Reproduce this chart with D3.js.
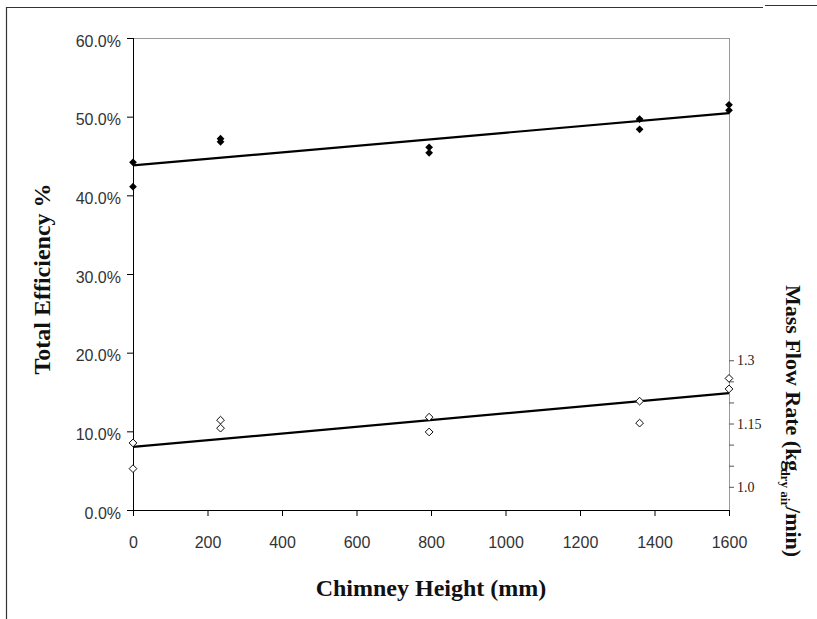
<!DOCTYPE html>
<html>
<head>
<meta charset="utf-8">
<script src="https://cdn.jsdelivr.net/npm/d3@7"></script>
<style>
  body { margin: 0; background: #fff; }
  svg { display: block; }
</style>
</head>
<body>
<div id="chart"></div>
<script>
// chimney height (mm) for each measurement
var heights = [0, 0, 235, 235, 795, 795, 1360, 1360, 1600, 1600];
// total efficiency (%)
var efficiency = [44.2, 41.1, 47.2, 46.8, 46.1, 45.4, 49.7, 48.4, 51.5, 50.8];
// mass flow rate (kg dry air / min)
var massFlow = [1.104, 1.043, 1.158, 1.139, 1.165, 1.130, 1.203, 1.151, 1.257, 1.232];

var xTicks = [0, 200, 400, 600, 800, 1000, 1200, 1400, 1600];
var yTicks = [0, 10, 20, 30, 40, 50, 60];
var y2Ticks = [1.0, 1.05, 1.1, 1.15, 1.2, 1.25, 1.3];
var y2Labels = { "1": "1.0", "1.15": "1.15", "1.3": "1.3" };

var W = 817, H = 619;
var margin = { left: 133, right: 88, top: 38, bottom: 109 };
var width = W - margin.left - margin.right;
var height = H - margin.top - margin.bottom;

var svg = d3.select("#chart").append("svg")
    .attr("width", W)
    .attr("height", H);

// outer frame (cut off at the edges)
svg.append("path")
    .attr("d", "M6.5,619 L6.5,7.5 L763,7.5 M765,5.5 L817,5.5")
    .attr("fill", "none")
    .attr("stroke", "#333")
    .attr("stroke-width", 1.2);

var g = svg.append("g")
    .attr("transform", "translate(" + margin.left + "," + margin.top + ")");

var x = d3.scaleLinear().domain([0, 1600]).range([0, width]);
var y = d3.scaleLinear().domain([0, 60]).range([height, 0]);
var y2 = d3.scaleLinear().domain([0.945, 2.064]).range([height, 0]);

// plot border top
g.append("line").attr("x1", 0).attr("x2", width).attr("y1", 0.5).attr("y2", 0.5)
    .attr("stroke", "#999");

// right axis
var yAxisR = d3.axisRight(y2).tickValues(y2Ticks).tickSize(5).tickPadding(3)
    .tickFormat(function (d) { return y2Labels[String(+d.toFixed(2))] || ""; });
var gr = g.append("g").attr("transform", "translate(" + width + ",0)").call(yAxisR);
gr.select(".domain").attr("d", "M0.5,0V" + height).attr("stroke", "#999");
gr.selectAll(".tick line").attr("stroke", "#555");
gr.selectAll("text")
    .attr("font-family", "'Liberation Serif', 'Times New Roman', serif")
    .attr("font-size", 14)
    .attr("fill", "#222");

// left axis
var yAxis = d3.axisLeft(y).tickValues(yTicks).tickSize(6).tickPadding(6)
    .tickFormat(function (d) { return d.toFixed(1) + "%"; });
var gl = g.append("g").call(yAxis);
gl.select(".domain").attr("d", "M0.5,0V" + (height + 6)).attr("stroke", "#000");
gl.selectAll("text")
    .attr("font-family", "'Liberation Sans', Arial, sans-serif")
    .attr("font-size", 16)
    .attr("fill", "#333")
    .attr("dy", "0.5em");

// bottom axis
var xAxis = d3.axisBottom(x).tickValues(xTicks).tickSize(6).tickPadding(21)
    .tickFormat(d3.format("d"));
var gb = g.append("g").attr("transform", "translate(0," + height + ")").call(xAxis);
gb.select(".domain").attr("d", "M-6,0.5H" + width).attr("stroke", "#000");
gb.selectAll("text")
    .attr("font-family", "'Liberation Sans', Arial, sans-serif")
    .attr("font-size", 16)
    .attr("fill", "#333");

// linear trend lines
function fit(xs, ys) {
    var mx = d3.mean(xs), my = d3.mean(ys);
    var sxy = d3.sum(xs, function (v, i) { return (v - mx) * (ys[i] - my); });
    var sxx = d3.sum(xs, function (v) { return (v - mx) * (v - mx); });
    var b = sxy / sxx;
    return function (v) { return my + b * (v - mx); };
}
var effFit = fit(heights, efficiency);
var flowFit = fit(heights, massFlow);

var line = d3.line();
g.append("path")
    .attr("d", line([[x(0), y(effFit(0))], [x(1600), y(effFit(1600))]]))
    .attr("stroke", "#000").attr("stroke-width", 2.2).attr("fill", "none");
g.append("path")
    .attr("d", line([[x(0), y2(flowFit(0))], [x(1600), y2(flowFit(1600))]]))
    .attr("stroke", "#000").attr("stroke-width", 2.2).attr("fill", "none");

var diamond = d3.symbol().type(d3.symbolSquare).size(30);

// efficiency points (filled)
g.selectAll(".eff").data(heights).enter().append("path")
    .attr("class", "eff")
    .attr("d", diamond)
    .attr("transform", function (d, i) {
        return "translate(" + x(d) + "," + y(efficiency[i]) + ") rotate(45)";
    })
    .attr("fill", "#000");

// mass flow points (open)
g.selectAll(".flow").data(heights).enter().append("path")
    .attr("class", "flow")
    .attr("d", diamond)
    .attr("transform", function (d, i) {
        return "translate(" + x(d) + "," + y2(massFlow[i]) + ") rotate(45)";
    })
    .attr("fill", "#fff")
    .attr("stroke", "#000")
    .attr("stroke-width", 0.9);

// titles
svg.append("text")
    .attr("transform", "translate(50," + (margin.top + height / 2 + 5) + ") rotate(-90)")
    .attr("text-anchor", "middle")
    .attr("font-family", "'Liberation Serif', 'Times New Roman', serif")
    .attr("font-weight", "bold")
    .attr("font-size", 24)
    .attr("fill", "#111")
    .text("Total Efficiency %");

svg.append("text")
    .attr("x", margin.left + width / 2)
    .attr("y", 596)
    .attr("text-anchor", "middle")
    .attr("font-family", "'Liberation Serif', 'Times New Roman', serif")
    .attr("font-weight", "bold")
    .attr("font-size", 24)
    .attr("fill", "#111")
    .text("Chimney Height (mm)");

var t2 = svg.append("text")
    .attr("transform", "translate(786,285) rotate(90)")
    .attr("font-family", "'Liberation Serif', 'Times New Roman', serif")
    .attr("font-weight", "bold")
    .attr("font-size", 22)
    .attr("fill", "#111");
t2.append("tspan").text("Mass Flow Rate (kg");
t2.append("tspan").attr("font-size", 13).attr("dy", 5).attr("dx", -3).text("dry air");
t2.append("tspan").attr("dy", -5).text("/min)");
</script>
</body>
</html>
